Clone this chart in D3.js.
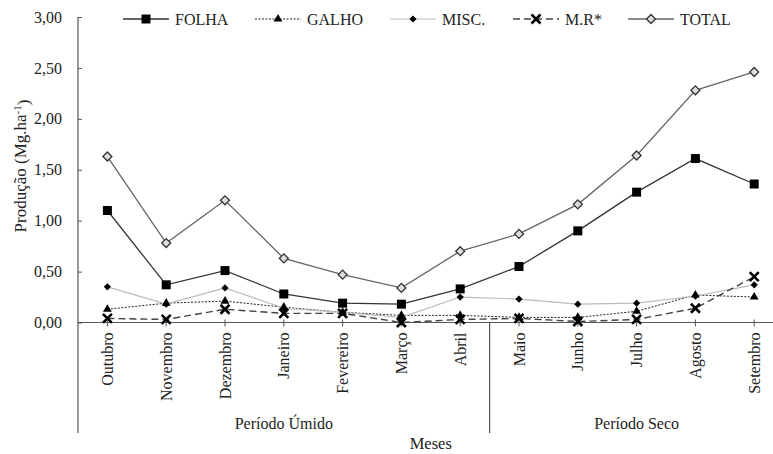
<!DOCTYPE html>
<html>
<head>
<meta charset="utf-8">
<script src="https://cdn.jsdelivr.net/npm/d3@7"></script>
<style>
  html, body { margin: 0; padding: 0; background: #fff; }
  svg { display: block; font-family: "Liberation Serif", "Times New Roman", serif; }
</style>
</head>
<body>
<svg id="chart" width="773" height="454"></svg>
<script>
const months = ["Outubro","Novembro","Dezembro","Janeiro","Fevereiro","Março","Abril","Maio","Junho","Julho","Agosto","Setembro"];
const folha = [1.10, 0.37, 0.51, 0.28, 0.19, 0.18, 0.33, 0.55, 0.90, 1.28, 1.61, 1.36];
const galho = [0.13, 0.19, 0.21, 0.15, 0.10, 0.07, 0.07, 0.05, 0.05, 0.11, 0.27, 0.25];
const misc  = [0.35, 0.18, 0.34, 0.14, 0.10, 0.05, 0.25, 0.23, 0.18, 0.19, 0.26, 0.37];
const mr    = [0.04, 0.03, 0.13, 0.09, 0.09, 0.00, 0.03, 0.04, 0.01, 0.03, 0.14, 0.45];
const total = [1.63, 0.78, 1.20, 0.63, 0.47, 0.34, 0.70, 0.87, 1.16, 1.64, 2.28, 2.46];
const yTicks = [0, 0.5, 1, 1.5, 2, 2.5, 3];
const periods = [{name: "Período Úmido", from: 0, to: 6}, {name: "Período Seco", from: 7, to: 11}];

(function () {
const svg = d3.select("#chart");
const pLeft = 78, pRight = 783.6, pTop = 17, pBottom = 322.5;

const x = d3.scaleBand().domain(months).range([pLeft, pRight]);
const xc = m => x(m) + x.bandwidth() / 2;
const y = d3.scaleLinear().domain([0, 3]).range([pBottom, pTop]);
const fmt = d3.formatLocale({decimal: ",", thousands: ".", grouping: [3], currency: ["", ""]}).format(".2f");

// Y axis
const yAxis = svg.append("g").attr("transform", `translate(${pLeft},0)`)
  .call(d3.axisLeft(y).tickValues(yTicks).tickSize(-4).tickPadding(16).tickFormat(fmt));
yAxis.select(".domain").remove();
yAxis.selectAll(".tick line").attr("stroke", "#555");
yAxis.selectAll(".tick text").attr("font-size", 16).attr("fill", "#222")
  .attr("font-family", "Liberation Serif");
svg.append("line").attr("x1", pLeft).attr("x2", pLeft).attr("y1", y(3)).attr("y2", 433)
  .attr("stroke", "#555").attr("stroke-width", 1.2);

// X axis
svg.append("line").attr("x1", pLeft).attr("x2", 773).attr("y1", pBottom).attr("y2", pBottom)
  .attr("stroke", "#555").attr("stroke-width", 1.2);
svg.append("g").selectAll("line").data(months).join("line")
  .attr("x1", d => xc(d)).attr("x2", d => xc(d))
  .attr("y1", pBottom - 3).attr("y2", pBottom + 4)
  .attr("stroke", "#555");
svg.append("g").selectAll("text").data(months).join("text")
  .attr("transform", d => `translate(${xc(d)},${pBottom + 10}) rotate(-90)`)
  .attr("text-anchor", "end").attr("dy", "0.35em")
  .attr("font-size", 16).attr("fill", "#222")
  .text(d => d);

// Period separators & labels
svg.append("line").attr("x1", x(months[7])).attr("x2", x(months[7]))
  .attr("y1", pBottom).attr("y2", 433).attr("stroke", "#555").attr("stroke-width", 1.2);
svg.append("g").selectAll("text").data(periods).join("text")
  .attr("x", d => (x(months[d.from]) + x(months[d.to]) + x.bandwidth()) / 2)
  .attr("y", 429).attr("text-anchor", "middle")
  .attr("font-size", 16).attr("fill", "#222")
  .text(d => d.name);

svg.append("text").attr("x", (pLeft + pRight) / 2).attr("y", 449)
  .attr("text-anchor", "middle").attr("font-size", 16.5).attr("fill", "#222").text("Meses");

const yt = svg.append("text").attr("transform", `translate(26,166) rotate(-90)`)
  .attr("text-anchor", "middle").attr("font-size", 17).attr("fill", "#222");
yt.append("tspan").text("Produção (Mg.ha");
yt.append("tspan").attr("dy", "-0.45em").attr("font-size", 11).text("-1");
yt.append("tspan").attr("dy", "0.45em").text(")");

// Series
const sqSym = d3.symbol().type(d3.symbolSquare);
const series = [
  {name: "FOLHA", values: folha, stroke: "#333", width: 1.3, dash: null,
   marker: g => g.append("path").attr("d", sqSym.size(81)()).attr("fill", "#000")},
  {name: "GALHO", values: galho, stroke: "#222", width: 1, dash: "2,1.5",
   marker: g => g.append("path").attr("d", d3.symbol().type(d3.symbolTriangle).size(34)()).attr("fill", "#000")},
  {name: "MISC.", values: misc, stroke: "#bbb", width: 1.2, dash: null,
   marker: g => g.append("path").attr("d", sqSym.size(26)()).attr("transform", "rotate(45)").attr("fill", "#000")},
  {name: "M.R*", values: mr, stroke: "#444", width: 1.4, dash: "7,4",
   marker: g => g.append("path").attr("d", "M-4.5,-4.5L4.5,4.5M-4.5,4.5L4.5,-4.5").attr("stroke", "#000").attr("stroke-width", 2.6).attr("fill", "none")},
  {name: "TOTAL", values: total, stroke: "#666", width: 1.3, dash: null,
   marker: g => g.append("path").attr("d", sqSym.size(40)()).attr("transform", "rotate(45)").attr("fill", "#ddd").attr("stroke", "#333").attr("stroke-width", 1.3)}
];

const line = d3.line().x((d, i) => xc(months[i])).y(d => y(d));
series.forEach(s => {
  svg.append("path").datum(s.values).attr("d", line)
    .attr("fill", "none").attr("stroke", s.stroke).attr("stroke-width", s.width)
    .attr("stroke-dasharray", s.dash);
});
series.forEach(s => {
  s.values.forEach((v, i) => {
    const g = svg.append("g").attr("transform", `translate(${xc(months[i])},${y(v)})`);
    s.marker(g);
  });
});

// Legend
const legendX = [123, 255, 390, 513, 628];
const legendY = 19;
series.forEach((s, k) => {
  const lx = legendX[k];
  svg.append("line").attr("x1", lx).attr("x2", lx + 46).attr("y1", legendY).attr("y2", legendY)
    .attr("stroke", s.stroke).attr("stroke-width", s.width).attr("stroke-dasharray", s.dash);
  const g = svg.append("g").attr("transform", `translate(${lx + 23},${legendY})`);
  s.marker(g);
  svg.append("text").attr("x", lx + 52).attr("y", legendY).attr("dy", "0.35em")
    .attr("font-size", 16).attr("fill", "#222").text(s.name);
});
})();
</script>
</body>
</html>
